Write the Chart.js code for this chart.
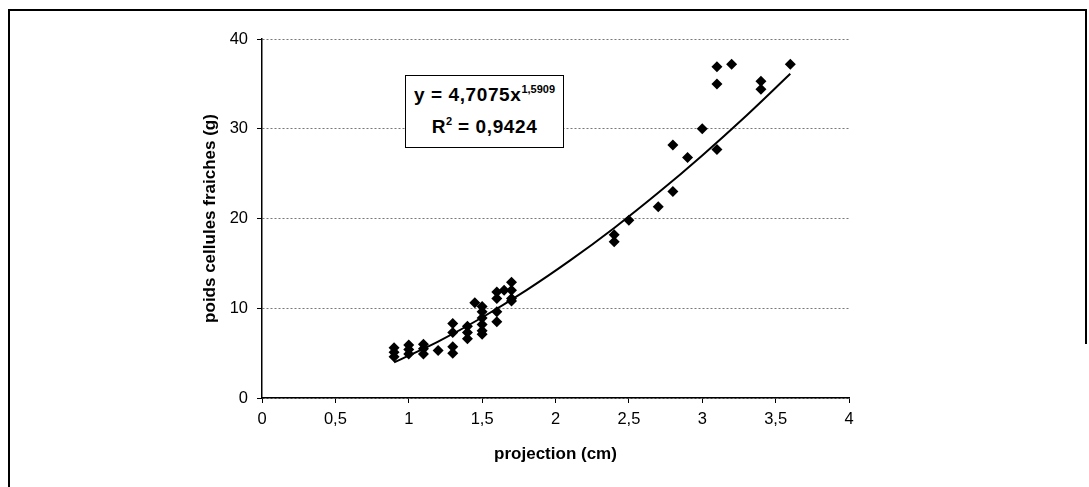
<!DOCTYPE html>
<html>
<head>
<meta charset="utf-8">
<script src="https://cdn.jsdelivr.net/npm/chart.js@4/dist/chart.umd.min.js"></script>
<style>
  html, body { margin: 0; padding: 0; background: #fff; }
  #wrap { position: relative; width: 1089px; height: 487px; overflow: hidden; }
  #frame { position: absolute; left: 8px; top: 9px; width: 1077px; height: 520px;
           border-left: 2px solid #000; border-top: 2px solid #000; }
  #frameR { position: absolute; left: 1085px; top: 9px; width: 2px; height: 335px; background: #000; }
  #eq { position: absolute; left: 405px; top: 75px; width: 157px; height: 71px;
        border: 1px solid #000; background: #fff;
        font-family: "Liberation Sans", Arial, sans-serif; font-weight: bold; font-size: 19px;
        letter-spacing: 0.6px; text-align: center; line-height: 32px; color: #000; white-space: nowrap; }
  #eq .l1 { margin-top: 3px; }
  #eq sup { font-size: 11px; vertical-align: 8px; line-height: 0; letter-spacing: 0; }
</style>
</head>
<body>
<div id="wrap">
  <canvas id="chart" width="1089" height="487"></canvas>
  <div id="frame"></div>
  <div id="frameR"></div>
  <div id="eq"><div class="l1">y = 4,7075x<sup>1,5909</sup></div><div>R<sup>2</sup> = 0,9424</div></div>
</div>
<script>
// points mesurés (projection en cm, poids en g)
const projX = [
  0.9, 0.9, 0.9,
  1.0, 1.0, 1.0,
  1.1, 1.1, 1.1,
  1.2,
  1.3, 1.3, 1.3, 1.3,
  1.4, 1.4, 1.4,
  1.45,
  1.5, 1.5, 1.5, 1.5, 1.5, 1.5,
  1.6, 1.6, 1.6, 1.6,
  1.65,
  1.7, 1.7, 1.7, 1.7,
  2.4, 2.4, 2.5, 2.7, 2.8, 2.8, 2.9, 3.0,
  3.1, 3.1, 3.1, 3.2, 3.4, 3.4, 3.6
];
const poids = [
  5.6, 5.1, 4.6,
  5.9, 5.4, 4.9,
  6.0, 5.5, 4.9,
  5.3,
  8.3, 7.3, 5.7, 5.0,
  8.0, 7.3, 6.6,
  10.6,
  10.2, 9.6, 8.9, 8.2, 7.5, 7.1,
  11.8, 11.1, 9.6, 8.5,
  12.0,
  12.9, 12.0, 11.1, 10.8,
  18.2, 17.4, 19.8, 21.3, 28.2, 23.0, 26.8, 30.0,
  36.9, 35.0, 27.7, 37.2, 35.3, 34.4, 37.2
];

// courbe de tendance y = 4,7075x^1,5909
const trendX = [0.9, 1.2, 1.5, 1.8, 2.1, 2.4, 2.7, 3.0, 3.3, 3.6];
const trendY = [3.98, 6.29, 8.97, 11.99, 15.33, 18.95, 22.86, 27.03, 31.45, 36.12];

const xTicks = [0, 0.5, 1, 1.5, 2, 2.5, 3, 3.5, 4];
const yTicks = [0, 10, 20, 30, 40];

const fam = '"Liberation Sans", Arial, sans-serif';
const virgule = v => String(v).replace('.', ',');

new Chart(document.getElementById('chart'), {
  type: 'scatter',
  data: {
    datasets: [{
      label: 'mesures',
      data: projX.map((x, i) => ({ x: x, y: poids[i] })),
      pointStyle: 'rectRot',
      pointRadius: 5.5,
      backgroundColor: '#000',
      borderColor: '#000',
      borderWidth: 0,
      order: 1
    }, {
      label: 'tendance',
      type: 'line',
      data: trendX.map((x, i) => ({ x: x, y: trendY[i] })),
      borderColor: '#000',
      borderWidth: 2,
      pointRadius: 0,
      tension: 0.4,
      fill: false,
      order: 2
    }]
  },
  options: {
    responsive: false,
    animation: false,
    layout: { padding: { left: 198, top: 39, right: 240, bottom: 22 } },
    plugins: { legend: { display: false }, tooltip: { enabled: false } },
    scales: {
      x: {
        type: 'linear', min: 0, max: 4,
        afterBuildTicks: s => { s.ticks = xTicks.map(v => ({ value: v })); },
        afterFit: s => { s.height = 487 - 398 - 22; },
        ticks: { color: '#000', font: { family: fam, size: 16.5 }, padding: 7, callback: virgule, maxRotation: 0 },
        grid: { drawOnChartArea: false, drawTicks: true, tickLength: 5, color: '#000', lineWidth: 1 },
        border: { display: true, color: '#000', width: 1.5 },
        title: { display: true, text: 'projection (cm)', color: '#000',
                 font: { family: fam, size: 17, weight: 'bold' }, padding: { top: 4, bottom: 0 } }
      },
      y: {
        type: 'linear', min: 0, max: 40,
        afterBuildTicks: s => { s.ticks = yTicks.map(v => ({ value: v })); },
        afterFit: s => { s.width = 64; },
        ticks: { color: '#000', font: { family: fam, size: 16.5 }, padding: 9 },
        grid: { drawOnChartArea: true, drawTicks: true, tickLength: 5, color: '#777', lineWidth: 1, tickColor: '#000' },
        border: { display: true, color: '#000', width: 1.5, dash: [2, 2] },
        title: { display: true, text: 'poids cellules fraiches (g)', color: '#000',
                 font: { family: fam, size: 17, weight: 'bold' }, padding: { top: 2, bottom: 0 } }
      }
    }
  }
});
</script>
</body>
</html>
